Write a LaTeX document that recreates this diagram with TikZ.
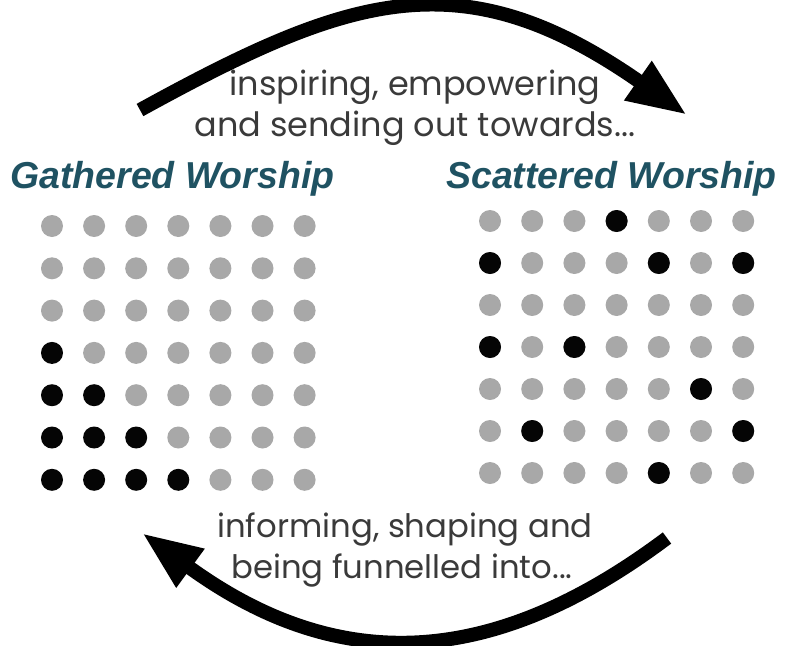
\documentclass[tikz,border=0pt]{standalone}
\usepackage{fontspec}
\setmainfont{Poppins}
\newfontfamily\titlefont{Liberation Sans}
\usetikzlibrary{arrows.meta}
\definecolor{dotgray}{HTML}{A8A8A8}
\definecolor{dotblack}{HTML}{050505}
\definecolor{titleteal}{HTML}{1F5262}
\definecolor{textgray}{HTML}{3A3A3A}
\tikzset{
  bigarrow/.style={line width=14pt, -{Triangle[length=60pt,width=44pt]}},
  cyctext/.style={anchor=base, text=textgray, inner sep=0pt, font=\fontsize{33.5}{33.5}\selectfont},
  cyctextb/.style={cyctext, font=\fontsize{32.3}{32.3}\selectfont},
  titletext/.style={anchor=base west, text=titleteal, inner sep=0pt, font=\titlefont\bfseries\itshape\fontsize{37.5}{37.5}\selectfont},
  gdot/.style={circle, fill=dotgray, minimum size=22pt, inner sep=0pt},
  bdot/.style={circle, fill=dotblack, minimum size=22pt, inner sep=0pt}
}
\begin{document}
\begin{tikzpicture}[x=1pt,y=-1pt]
\useasboundingbox (0,0) rectangle (786,645);
% arrows
\coordinate (ts) at (140,110);
\coordinate (tt) at (687,115);
\coordinate (bs) at (667,538);
\coordinate (bt) at (142,533);
\draw[bigarrow] (ts) .. controls (350,-5.5) and (462,-42.5) .. (tt);
\draw[bigarrow] (bs) .. controls (499,664) and (344,680) .. (bt);
% texts
\node[cyctext] (t1) at (415,95) {inspiring, empowering};
\node[cyctext] (t2) at (415,136) {and sending out towards...};
\node[cyctextb] (b1) at (405,537) {informing, shaping and};
\node[cyctextb] (b2) at (402,578) {being funnelled into...};
\node[titletext] (gt) at (10,188) {Gathered Worship};
\node[titletext] (st) at (446,188) {Scattered Worship};
% left grid
\foreach \r in {0,...,6}{
  \foreach \c in {0,...,6}{
    \pgfmathtruncatemacro{\lim}{\r-3}
    \ifnum\c<\numexpr\lim+1\relax
      \node[bdot] (g-\r-\c) at ({52+42.1*\c},{226+42.3*\r}) {};
    \else
      \node[gdot] (g-\r-\c) at ({52+42.1*\c},{226+42.3*\r}) {};
    \fi
  }
}
% right grid
\foreach \r in {0,...,6}{
  \foreach \c in {0,...,6}{
    \node[gdot] (s-\r-\c) at ({490+42.2*\c},{221+42*\r}) {};
  }
}
\foreach \r/\c in {0/3,1/0,1/4,1/6,3/0,3/2,4/5,5/1,5/6,6/4}{
  \node[bdot] at ({490+42.2*\c},{221+42*\r}) {};
}
\end{tikzpicture}
\end{document}
